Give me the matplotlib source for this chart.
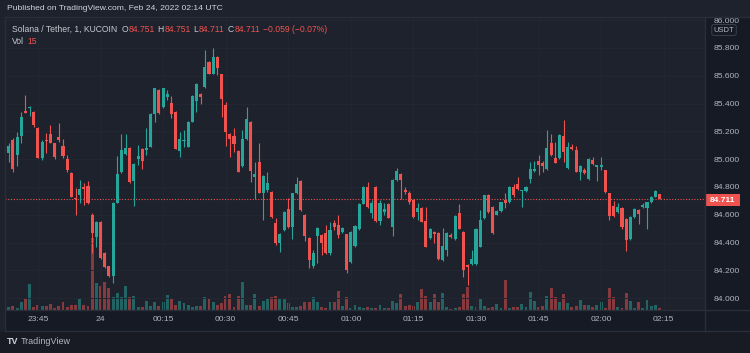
import pandas as pd
import matplotlib
matplotlib.use('Agg')
import matplotlib.pyplot as plt
import matplotlib.dates as mdates
from matplotlib.lines import Line2D
from matplotlib.patches import Rectangle
import numpy as np

plt.rcParams['font.family'] = ['Liberation Sans', 'DejaVu Sans']

# SOL/USDT 1-minute candles, KuCoin, 23:38 -> 02:14 UTC
start = '2022-02-23 23:38'

opens = [85.045, 85.138, 85.03, 85.167, 85.345, 85.365, 85.34, 85.225, 85.01, 85.14,
         85.18, 85.116, 85.16, 85.095, 85.0, 84.9, 84.72, 84.745, 84.8, 84.805,
         84.6, 84.44, 84.55, 84.325, 84.23, 84.16, 84.685, 84.91, 85.04, 85.08,
         84.845, 85.0, 85.07, 85.065, 85.09, 85.325, 85.5, 85.375, 85.445, 85.405,
         85.34, 85.06, 85.13, 85.09, 85.27, 85.42, 85.47, 85.52, 85.70, 85.615,
         85.735, 85.61, 85.39, 85.18, 85.165, 85.06, 84.95, 85.145, 85.27, 84.875,
         84.98, 84.755, 84.78, 84.765, 84.54, 84.395, 84.49, 84.64, 84.51, 84.755,
         84.845, 84.6, 84.435, 84.23, 84.45, 84.455, 84.47, 84.325, 84.54, 84.53,
         84.475, 84.46, 84.26, 84.375, 84.5, 84.68, 84.8, 84.615, 84.8, 84.555,
         84.62, 84.68, 84.51, 84.85, 84.895, 84.78, 84.755, 84.705, 84.62, 84.65,
         84.555, 84.43, 84.475, 84.47, 84.275, 84.345, 84.455, 84.425, 84.61, 84.475,
         84.24, 84.245, 84.245, 84.37, 84.575, 84.74, 84.655, 84.6, 84.625, 84.707,
         84.69, 84.8, 84.82, 84.77, 84.77, 84.857, 84.915, 84.985, 84.97, 84.93,
         85.115, 85.01, 85.01, 85.165, 84.937, 85.09, 85.065, 84.91, 84.92, 84.857,
         84.995, 84.945, 84.945, 84.92, 84.757, 84.66, 84.62, 84.65, 84.57, 84.425,
         84.585, 84.635, 84.655, 84.65, 84.69, 84.73, 84.751]

highs = [85.114, 85.15, 85.198, 85.34, 85.46, 85.38, 85.35, 85.23, 85.14, 85.186,
         85.246, 85.12, 85.258, 85.143, 85.03, 84.905, 84.79, 84.85, 84.83, 84.84,
         84.615, 84.555, 84.555, 84.33, 84.235, 84.69, 85.02, 85.18, 85.18, 85.09,
         84.97, 85.1, 85.08, 85.222, 85.33, 85.515, 85.505, 85.515, 85.498, 85.455,
         85.345, 85.198, 85.21, 85.275, 85.46, 85.546, 85.475, 85.785, 85.71, 85.8,
         85.74, 85.615, 85.414, 85.185, 85.222, 85.065, 85.21, 85.378, 85.275, 84.98,
         85.114, 84.885, 84.905, 84.77, 84.575, 84.47, 84.625, 84.719, 84.76, 84.874,
         84.85, 84.605, 84.44, 84.35, 84.51, 84.46, 84.527, 84.55, 84.565, 84.598,
         84.515, 84.465, 84.48, 84.525, 84.685, 84.805, 84.838, 84.706, 84.805, 84.706,
         84.683, 84.685, 84.855, 84.939, 84.9, 84.798, 84.77, 84.71, 84.683, 84.655,
         84.654, 84.505, 84.48, 84.475, 84.503, 84.475, 84.47, 84.595, 84.678, 84.48,
         84.245, 84.347, 84.505, 84.635, 84.745, 84.75, 84.66, 84.635, 84.695, 84.759,
         84.805, 84.822, 84.87, 84.78, 84.805, 84.982, 84.99, 85.03, 84.99, 85.21,
         85.18, 85.126, 85.18, 85.28, 85.126, 85.11, 85.095, 84.955, 84.94, 85.005,
         85.018, 84.96, 85.014, 84.925, 84.76, 84.70, 84.687, 84.655, 84.575, 84.59,
         84.65, 84.64, 84.683, 84.695, 84.735, 84.775, 84.751]

lows = [84.982, 84.908, 84.951, 85.115, 85.33, 85.31, 85.23, 85.005, 84.995, 85.042,
        85.114, 85.0, 85.126, 85.006, 84.91, 84.725, 84.6, 84.683, 84.67, 84.675,
        84.323, 84.37, 84.285, 84.22, 84.155, 84.11, 84.683, 84.9, 85.03, 84.83,
        84.66, 84.96, 84.93, 85.03, 85.085, 85.27, 85.325, 85.37, 85.426, 85.295,
        85.07, 85.013, 85.09, 85.085, 85.265, 85.342, 85.40, 85.515, 85.61, 85.61,
        85.606, 85.30, 85.095, 85.014, 85.054, 84.905, 84.946, 85.14, 84.838, 84.71,
        84.755, 84.56, 84.766, 84.58, 84.383, 84.335, 84.485, 84.505, 84.426, 84.75,
        84.625, 84.41, 84.215, 84.215, 84.255, 84.31, 84.32, 84.31, 84.49, 84.43,
        84.47, 84.184, 84.255, 84.37, 84.49, 84.675, 84.65, 84.575, 84.55, 84.53,
        84.60, 84.575, 84.45, 84.845, 84.712, 84.75, 84.68, 84.58, 84.563, 84.545,
        84.365, 84.425, 84.395, 84.275, 84.27, 84.3, 84.43, 84.42, 84.495, 84.155,
        84.095, 84.24, 84.24, 84.365, 84.57, 84.615, 84.465, 84.595, 84.62, 84.647,
        84.685, 84.726, 84.78, 84.654, 84.765, 84.83, 84.91, 84.886, 84.91, 84.925,
        85.025, 84.97, 85.0, 84.98, 84.93, 85.065, 84.905, 84.85, 84.893, 84.85,
        84.958, 84.845, 84.92, 84.76, 84.563, 84.585, 84.615, 84.495, 84.34, 84.42,
        84.58, 84.534, 84.647, 84.5, 84.685, 84.725, 84.711]

closes = [85.095, 84.93, 85.16, 85.30, 85.335, 85.375, 85.245, 85.01, 85.125, 85.13,
          85.12, 85.015, 85.14, 85.02, 84.92, 84.73, 84.71, 84.785, 84.785, 84.685,
          84.47, 84.55, 84.29, 84.225, 84.16, 84.685, 84.895, 85.065, 85.08, 84.835,
          84.965, 85.02, 84.99, 85.08, 85.325, 85.51, 85.33, 85.51, 85.47, 85.325,
          85.075, 85.145, 85.14, 85.27, 85.455, 85.54, 85.45, 85.665, 85.615, 85.735,
          85.655, 85.43, 85.195, 85.145, 85.11, 84.91, 85.145, 85.29, 84.915, 84.895,
          84.76, 84.88, 84.83, 84.585, 84.395, 84.465, 84.62, 84.51, 84.755, 84.82,
          84.635, 84.45, 84.275, 84.325, 84.505, 84.395, 84.325, 84.49, 84.51, 84.455,
          84.505, 84.2, 84.475, 84.52, 84.68, 84.8, 84.655, 84.685, 84.555, 84.685,
          84.64, 84.58, 84.85, 84.915, 84.85, 84.765, 84.69, 84.585, 84.65, 84.55,
          84.37, 84.5, 84.46, 84.28, 84.375, 84.47, 84.44, 84.59, 84.5, 84.2,
          84.225, 84.28, 84.5, 84.565, 84.74, 84.62, 84.47, 84.628, 84.69, 84.685,
          84.8, 84.745, 84.785, 84.775, 84.8, 84.93, 84.93, 84.955, 84.95, 85.08,
          85.03, 84.975, 85.175, 85.05, 85.09, 85.075, 84.91, 84.95, 84.9, 85.0,
          84.965, 84.958, 84.958, 84.765, 84.59, 84.59, 84.655, 84.51, 84.418, 84.585,
          84.645, 84.605, 84.67, 84.69, 84.73, 84.771, 84.711]

volumes = [27, 36, 18, 72, 108, 234, 27, 45, 36, 36, 54, 18, 36, 72, 27, 45, 45, 108, 45, 36,
           648, 243, 216, 252, 198, 117, 153, 117, 216, 117, 126, 27, 27,
           81, 36, 72, 36, 72, 135, 108, 45, 81, 63, 45, 27, 36, 36, 117, 108, 72, 45, 63,
           126, 144, 27, 126, 252, 45, 45, 144, 36, 81, 108, 117, 126, 108, 108,
           63, 27, 27, 36, 72, 72, 117, 72, 27, 18, 72, 72, 171, 36, 117, 18, 45, 27, 18,
           27, 18, 18, 45, 18, 18, 81, 63, 144, 36, 45, 36, 72, 189,
           126, 72, 144, 72, 153, 27, 9, 18, 27, 144, 207, 36, 27, 99, 36, 18, 27, 54, 18,
           270, 18, 27, 27, 54, 27, 162, 81, 27, 36, 126, 198, 117, 72, 144,
           63, 27, 36, 90, 45, 45, 27, 45, 72, 18, 198, 117, 27, 18, 153, 81, 18, 72, 18,
           90, 36, 45, 15]

price_ticks = [84.0, 84.2, 84.4, 84.6, 84.8, 85.0, 85.2, 85.4, 85.6, 85.8, 86.0]
last_price = 84.711

UP = '#26a69a'
DOWN = '#ef5350'
BG = '#161a25'
OUTER = '#1e222d'
GRID = '#232733'
TXT = '#b2b5be'

df = pd.DataFrame({'open': opens, 'high': highs, 'low': lows, 'close': closes, 'volume': volumes},
                  index=pd.date_range(start, periods=len(opens), freq='min'))
t = mdates.date2num(df.index.to_pydatetime())
up = df['close'] >= df['open']
colors = np.where(up, UP, DOWN)
minute = 1 / 1440

W, H = 750, 353
fig = plt.figure(figsize=(W / 100, H / 100), dpi=100, facecolor=OUTER)

def fx(px):
    return px / W

def fy(py):
    return 1 - py / H

rect = [fx(5), fy(310), fx(705) - fx(5), fy(17) - fy(310)]

# volume pane (behind)
axv = fig.add_axes(rect)
axv.set_facecolor(BG)
axv.bar(t, df['volume'], width=0.7 * minute, color=colors, alpha=0.5, linewidth=0)
axv.set_ylim(0, 2637)
axv.set_xlim(t[0] - 0.9 * minute, t[0] + 166.9 * minute)
axv.axis('off')

# price pane
ax = fig.add_axes(rect)
ax.patch.set_visible(False)
ax.set_xlim(axv.get_xlim())
ax.set_ylim(83.915, 86.023)

ax.vlines(t, df['low'], df['high'], colors=colors, linewidth=0.8, zorder=3)
body = np.maximum((df['close'] - df['open']).abs(), 0.006)
ax.bar(t, body, bottom=np.minimum(df['open'], df['close']), width=0.74 * minute,
       color=colors, linewidth=0, zorder=4)

ax.axhline(last_price, color=DOWN, linewidth=0.8, linestyle=(0, (1, 1.5)), zorder=2)

ax.yaxis.tick_right()
ax.set_yticks(price_ticks)
ax.yaxis.set_major_formatter(matplotlib.ticker.FormatStrFormatter('%.3f'))
ax.xaxis.set_major_locator(mdates.MinuteLocator(byminute=[0, 15, 30, 45]))

def tfmt(x, pos):
    d = mdates.num2date(x)
    return '24' if (d.hour == 0 and d.minute == 0) else d.strftime('%H:%M')

ax.xaxis.set_major_formatter(matplotlib.ticker.FuncFormatter(tfmt))
ax.tick_params(axis='both', length=0, colors=TXT, labelsize=6.1)
ax.tick_params(axis='y', pad=6.5)
ax.tick_params(axis='x', pad=4)
ax.grid(True, color=GRID, linewidth=0.7)
for s in ax.spines.values():
    s.set_visible(False)

# frame lines
line_c = '#2a2e39'
fig.add_artist(Line2D([fx(705), fx(705)], [fy(17), fy(331)], color=line_c, lw=1))
fig.add_artist(Line2D([fx(5), fx(750)], [fy(310), fy(310)], color=line_c, lw=1))
fig.add_artist(Line2D([fx(5), fx(750)], [fy(331), fy(331)], color=line_c, lw=1))
fig.add_artist(Line2D([fx(5), fx(5)], [fy(17), fy(331)], color=line_c, lw=1))
fig.add_artist(Rectangle((fx(705), fy(331)), 1 - fx(705), fy(17) - fy(331),
                         facecolor=BG, edgecolor='none', zorder=-1, transform=fig.transFigure))
fig.add_artist(Rectangle((fx(5), fy(331)), fx(705) - fx(5), fy(310) - fy(331),
                         facecolor=BG, edgecolor='none', zorder=-1, transform=fig.transFigure))

# top strip above the chart frame hides the upper half of the 86.000 label
fig.add_artist(Rectangle((0, fy(17)), 1, 1 - fy(17), facecolor=OUTER, edgecolor='none',
                         transform=fig.transFigure, zorder=5))
fig.add_artist(Line2D([fx(5), fx(750)], [fy(17), fy(17)], color=line_c, lw=1, zorder=6))

# USDT box
fig.text(fx(724), fy(30), 'USDT', color=TXT, fontsize=5.5, ha='center', va='center',
         bbox=dict(boxstyle='round,pad=0.25', facecolor=BG, edgecolor='#434651', lw=0.6))

# last price tag
fig.add_artist(Rectangle((fx(705), fy(206)), fx(740) - fx(705), fy(194) - fy(206),
                         facecolor=DOWN, edgecolor='none', transform=fig.transFigure))
fig.text(fx(722.5), fy(200), '84.711', color='white', fontsize=6, fontweight='bold',
         ha='center', va='center')

renderer = fig.canvas.get_renderer()

def row(x, y, parts, size=6.2, z=7):
    for s, c, gap, wt in parts:
        tx = fig.text(fx(x), fy(y), s, color=c, fontsize=size, va='center',
                      fontweight=wt, zorder=z)
        bb = tx.get_window_extent(renderer)
        x = bb.x1 + gap

# header
row(7, 9, [('Published on TradingView.com, Feb 24, 2022 02:14 UTC', '#d1d4dc', 0, 'normal')],
    size=6.1)

row(12, 29, [('Solana / Tether, 1, KUCOIN', '#c5c8d0', 4, 'normal'),
             ('O', '#c5c8d0', 0.5, 'normal'), ('84.751', DOWN, 3, 'normal'),
             ('H', '#c5c8d0', 0.5, 'normal'), ('84.751', DOWN, 3, 'normal'),
             ('L', '#c5c8d0', 0.5, 'normal'), ('84.711', DOWN, 3, 'normal'),
             ('C', '#c5c8d0', 0.5, 'normal'), ('84.711', DOWN, 3, 'normal'),
             ('\u22120.059 (\u22120.07%)', DOWN, 0, 'normal')])
row(12, 41, [('Vol', '#c5c8d0', 3, 'normal'), ('15', DOWN, 0, 'normal')])

# footer
fig.add_artist(Rectangle((0, 0), 1, fy(332), facecolor='#181b23', edgecolor='none',
                         transform=fig.transFigure, zorder=-2))
row(7, 341, [('TV', '#d1d4dc', 2, 'bold'), ('TradingView', '#b2b5be', 0, 'normal')], size=6.5)

fig.savefig('out.png', dpi=100, facecolor=OUTER)
